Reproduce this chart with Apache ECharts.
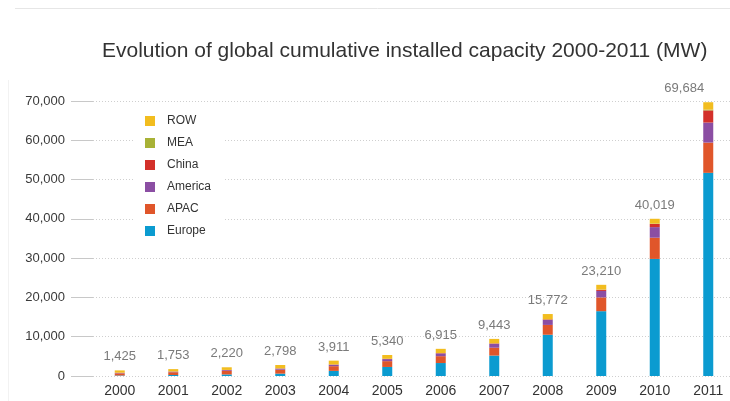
<!DOCTYPE html>
<html>
<head>
<meta charset="utf-8">
<script src="https://cdn.jsdelivr.net/npm/echarts@6/dist/echarts.min.js"></script>
<style>
html,body{margin:0;padding:0;background:#fff;overflow:hidden;}
#chart{width:740px;height:401px;}
</style>
</head>
<body>
<div id="chart"></div>
<script>
const years = ['2000','2001','2002','2003','2004','2005','2006','2007','2008','2009','2010','2011'];
const europe  = [130, 260, 400, 600, 1300, 2300, 3300, 5200, 10500, 16500, 29800, 51716];
const apac    = [550, 700, 900, 1000, 1200, 1480, 1750, 2000, 2500, 3500, 5400, 7700];
const america = [140, 160, 200, 280, 370, 520, 700, 1000, 1250, 1650, 2700, 5100];
const china   = [19, 24, 42, 52, 62, 70, 80, 100, 150, 300, 800, 3093];
const mea     = [3, 4, 5, 6, 8, 10, 15, 20, 40, 60, 100, 200];
const row     = [583, 605, 673, 860, 971, 960, 1070, 1123, 1332, 1200, 1219, 1875];
const totals  = [1425, 1753, 2220, 2798, 3911, 5340, 6915, 9443, 15772, 23210, 40019, 69684];
const seriesNames = ['Europe','APAC','America','China','MEA','ROW'];
const colors = ['#0b9bd0','#e0562a','#8b4ea3','#d3302a','#a8b236','#f2bd1f'];
const yTicks = [0, 10000, 20000, 30000, 40000, 50000, 60000, 70000];

const seriesData = [europe, apac, america, china, mea, row];
const fmt = v => v.toLocaleString('en-US');

const chart = echarts.init(document.getElementById('chart'), null, {renderer:'canvas'});
const series = seriesNames.map((n, i) => {
  const isTop = i === seriesNames.length - 1;
  const s = {
    name: n, type: 'bar', stack: 'total', barWidth: 10,
    data: seriesData[i].map((v, k) => {
      if (isTop && k === seriesData[i].length - 1) {
        return {value: v, label: {offset: [-24, 0]}};
      }
      return v;
    }),
    itemStyle: {color: colors[i]}
  };
  if (isTop) {
    s.label = {
      show: true, position: 'top', distance: 7,
      color: '#7a7a7a', fontSize: 13, fontFamily: 'Liberation Sans',
      formatter: p => fmt(totals[p.dataIndex])
    };
  }
  return s;
});

chart.setOption({
  animation: false,
  backgroundColor: '#fff',
  color: colors,
  title: {
    text: 'Evolution of global cumulative installed capacity 2000-2011 (MW)',
    left: 97, top: 36,
    textStyle: {fontFamily: 'Liberation Sans', fontWeight: 'normal', fontSize: 21, color: '#333'}
  },
  legend: {
    orient: 'vertical', left: 133, top: 105,
    padding: [10, 12, 10, 12],
    backgroundColor: '#fff',
    itemWidth: 10, itemHeight: 10, itemGap: 10,
    icon: 'rect',
    data: ['ROW','MEA','China','America','APAC','Europe'],
    textStyle: {fontFamily: 'Liberation Sans', fontSize: 12, color: '#333', padding: [0, 0, 0, 7]}
  },
  grid: {left: 93, top: 101, right: 5, height: 275, containLabel: false},
  xAxis: {
    type: 'category', data: years,
    axisLine: {show: false}, axisTick: {show: false},
    axisLabel: {margin: 8, fontFamily: 'Liberation Sans', fontSize: 14, color: '#333'}
  },
  yAxis: {
    type: 'value', min: yTicks[0], max: yTicks[yTicks.length-1], interval: 10000,
    axisLine: {show: false},
    axisTick: {show: true, length: 22, lineStyle: {color: '#c8c8c8'}},
    axisLabel: {margin: 28, fontFamily: 'Liberation Sans', fontSize: 13, color: '#3a3a3a',
      formatter: v => fmt(v)},
    splitLine: {lineStyle: {color: '#cfcfcf', type: [1, 2]}}
  },
  graphic: [
    {type: 'line', shape: {x1: 15, y1: 8.5, x2: 740, y2: 8.5}, style: {stroke: '#e6e6e6', lineWidth: 1}, silent: true},
    {type: 'line', shape: {x1: 8.5, y1: 80, x2: 8.5, y2: 401}, style: {stroke: '#f2f2f2', lineWidth: 1}, silent: true}
  ],
  series: series
});
</script>
</body>
</html>
